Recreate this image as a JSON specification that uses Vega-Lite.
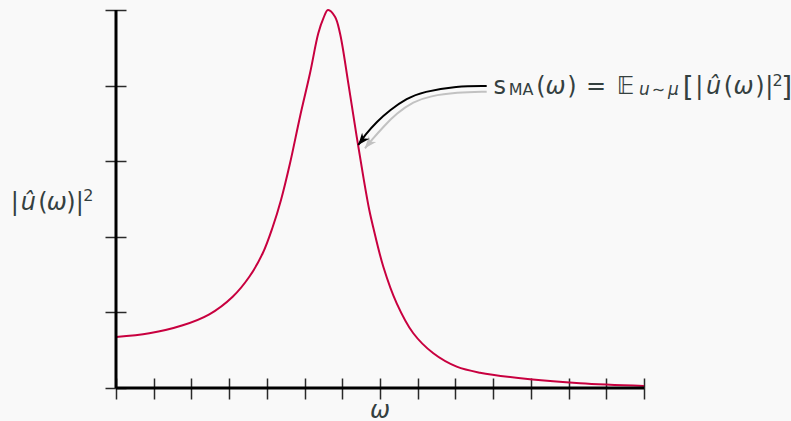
{
  "$schema": "https://vega.github.io/schema/vega-lite/v6.json",
  "autosize": "none",
  "width": 528,
  "height": 378,
  "padding": {"left": 116, "top": 10, "right": 147, "bottom": 33},
  "background": "#f9f9f9",
  "config": {
    "view": {"stroke": null},
    "axis": {
      "labels": false,
      "title": null,
      "domain": false,
      "grid": false,
      "offset": -10,
      "tickSize": 21,
      "tickWidth": 1.5,
      "tickColor": "#2a2a2a"
    },
    "axisX": {"tickCount": 14},
    "axisY": {"tickCount": 5},
    "text": {"font": "DejaVu Sans", "color": "#34403f", "align": "center", "baseline": "alphabetic"}
  },
  "datasets": {
    "spectrum": [
      {"x": 0, "y": 0.675},
      {"x": 0.883, "y": 0.724},
      {"x": 1.769, "y": 0.83},
      {"x": 2.474, "y": 0.975},
      {"x": 3.094, "y": 1.208},
      {"x": 3.535, "y": 1.472},
      {"x": 3.89, "y": 1.782},
      {"x": 4.155, "y": 2.13},
      {"x": 4.375, "y": 2.487},
      {"x": 4.614, "y": 2.972},
      {"x": 4.879, "y": 3.589},
      {"x": 5.144, "y": 4.163},
      {"x": 5.364, "y": 4.692},
      {"x": 5.498, "y": 4.889},
      {"x": 5.62, "y": 5.0},
      {"x": 5.807, "y": 4.911},
      {"x": 5.939, "y": 4.692},
      {"x": 6.16, "y": 4.03},
      {"x": 6.382, "y": 3.324},
      {"x": 6.557, "y": 2.795},
      {"x": 6.716, "y": 2.354},
      {"x": 6.823, "y": 2.12},
      {"x": 7.088, "y": 1.604},
      {"x": 7.443, "y": 1.12},
      {"x": 7.883, "y": 0.724},
      {"x": 8.414, "y": 0.459},
      {"x": 9.034, "y": 0.282},
      {"x": 9.652, "y": 0.202},
      {"x": 10.978, "y": 0.115},
      {"x": 12.303, "y": 0.062},
      {"x": 14.0, "y": 0.026}
    ],
    "arrowShadow": [
      {"x": 6.602, "y": 3.171},
      {"x": 6.78, "y": 3.28},
      {"x": 7.088, "y": 3.456},
      {"x": 7.443, "y": 3.634},
      {"x": 7.883, "y": 3.787},
      {"x": 8.326, "y": 3.862},
      {"x": 9.034, "y": 3.911},
      {"x": 9.829, "y": 3.919}
    ],
    "arrow": [
      {"x": 6.425, "y": 3.214},
      {"x": 6.602, "y": 3.347},
      {"x": 6.913, "y": 3.522},
      {"x": 7.265, "y": 3.677},
      {"x": 7.708, "y": 3.832},
      {"x": 8.148, "y": 3.919},
      {"x": 9.034, "y": 3.995},
      {"x": 9.829, "y": 3.995}
    ],
    "mathRoman": [
      {"t": "s", "x": 10.174, "y": 3.885},
      {"t": "(", "x": 11.269, "y": 3.885},
      {"t": ")", "x": 12.091, "y": 3.885},
      {"t": "=", "x": 12.727, "y": 3.885},
      {"t": "𝔼", "x": 13.51, "y": 3.885},
      {"t": "|", "x": 15.466, "y": 3.885},
      {"t": "(", "x": 16.241, "y": 3.885},
      {"t": ")", "x": 17.076, "y": 3.885},
      {"t": "|", "x": 17.322, "y": 3.885},
      {"t": "|", "x": -2.686, "y": 2.354},
      {"t": "(", "x": -1.936, "y": 2.354},
      {"t": ")", "x": -1.198, "y": 2.354},
      {"t": "|", "x": -0.962, "y": 2.354}
    ],
    "mathItalic": [
      {"t": "ω", "x": 11.653, "y": 3.885},
      {"t": "û", "x": 15.843, "y": 3.885},
      {"t": "ω", "x": 16.638, "y": 3.885},
      {"t": "û", "x": -2.325, "y": 2.354},
      {"t": "ω", "x": -1.572, "y": 2.354},
      {"t": "ω", "x": 7.0, "y": -0.4}
    ],
    "scriptRoman": [
      {"t": "MA", "x": 10.739, "y": 3.872},
      {"t": "∼", "x": 14.384, "y": 3.872},
      {"t": "2", "x": 17.545, "y": 3.995},
      {"t": "2", "x": -0.734, "y": 2.474}
    ],
    "scriptItalic": [
      {"t": "u", "x": 14.008, "y": 3.872},
      {"t": "μ", "x": 14.782, "y": 3.872}
    ],
    "brackets": [
      {"t": "[", "x": 15.175, "y": 3.849},
      {"t": "]", "x": 17.786, "y": 3.849}
    ],
    "heads": [
      {"x": 6.706, "y": 3.235, "kind": "shadow"},
      {"x": 6.528, "y": 3.279, "kind": "main"}
    ]
  },
  "layer": [
    {
      "data": {"name": "spectrum"},
      "mark": {"type": "line", "interpolate": "catmull-rom", "color": "#c8003f", "strokeWidth": 2},
      "encoding": {
        "x": {"field": "x", "type": "quantitative", "scale": {"domain": [0, 14], "nice": false, "zero": false}},
        "y": {"field": "y", "type": "quantitative", "scale": {"domain": [0, 5], "nice": false, "zero": false}}
      }
    },
    {
      "data": {"values": [{}]},
      "mark": {"type": "rule", "color": "#000000", "strokeWidth": 3},
      "encoding": {"y": {"datum": 0, "type": "quantitative"}}
    },
    {
      "data": {"values": [{}]},
      "mark": {"type": "rule", "color": "#000000", "strokeWidth": 3},
      "encoding": {"x": {"datum": 0, "type": "quantitative"}}
    },
    {
      "data": {"name": "arrowShadow"},
      "mark": {"type": "line", "interpolate": "basis", "color": "#c2c2c2", "strokeWidth": 2},
      "encoding": {
        "x": {"field": "x", "type": "quantitative"},
        "y": {"field": "y", "type": "quantitative"}
      }
    },
    {
      "data": {"name": "arrow"},
      "mark": {"type": "line", "interpolate": "basis", "color": "#000000", "strokeWidth": 2},
      "encoding": {
        "x": {"field": "x", "type": "quantitative"},
        "y": {"field": "y", "type": "quantitative"}
      }
    },
    {
      "data": {"name": "heads"},
      "mark": {"type": "point", "filled": true, "shape": "M0,-1 L0.75,0.9 L0,0.35 L-0.75,0.9 Z", "size": 160, "angle": 219, "opacity": 1},
      "encoding": {
        "x": {"field": "x", "type": "quantitative"},
        "y": {"field": "y", "type": "quantitative"},
        "color": {"field": "kind", "type": "nominal", "scale": {"domain": ["shadow", "main"], "range": ["#c2c2c2", "#000000"]}, "legend": null}
      }
    },
    {
      "data": {"name": "mathRoman"},
      "mark": {"type": "text", "fontSize": 24},
      "encoding": {
        "x": {"field": "x", "type": "quantitative"},
        "y": {"field": "y", "type": "quantitative"},
        "text": {"field": "t"}
      }
    },
    {
      "data": {"name": "mathItalic"},
      "mark": {"type": "text", "fontSize": 24, "fontStyle": "italic"},
      "encoding": {
        "x": {"field": "x", "type": "quantitative"},
        "y": {"field": "y", "type": "quantitative"},
        "text": {"field": "t"}
      }
    },
    {
      "data": {"name": "scriptRoman"},
      "mark": {"type": "text", "fontSize": 16},
      "encoding": {
        "x": {"field": "x", "type": "quantitative"},
        "y": {"field": "y", "type": "quantitative"},
        "text": {"field": "t"}
      }
    },
    {
      "data": {"name": "scriptItalic"},
      "mark": {"type": "text", "fontSize": 17, "fontStyle": "italic"},
      "encoding": {
        "x": {"field": "x", "type": "quantitative"},
        "y": {"field": "y", "type": "quantitative"},
        "text": {"field": "t"}
      }
    },
    {
      "data": {"name": "brackets"},
      "mark": {"type": "text", "fontSize": 28},
      "encoding": {
        "x": {"field": "x", "type": "quantitative"},
        "y": {"field": "y", "type": "quantitative"},
        "text": {"field": "t"}
      }
    }
  ]
}
